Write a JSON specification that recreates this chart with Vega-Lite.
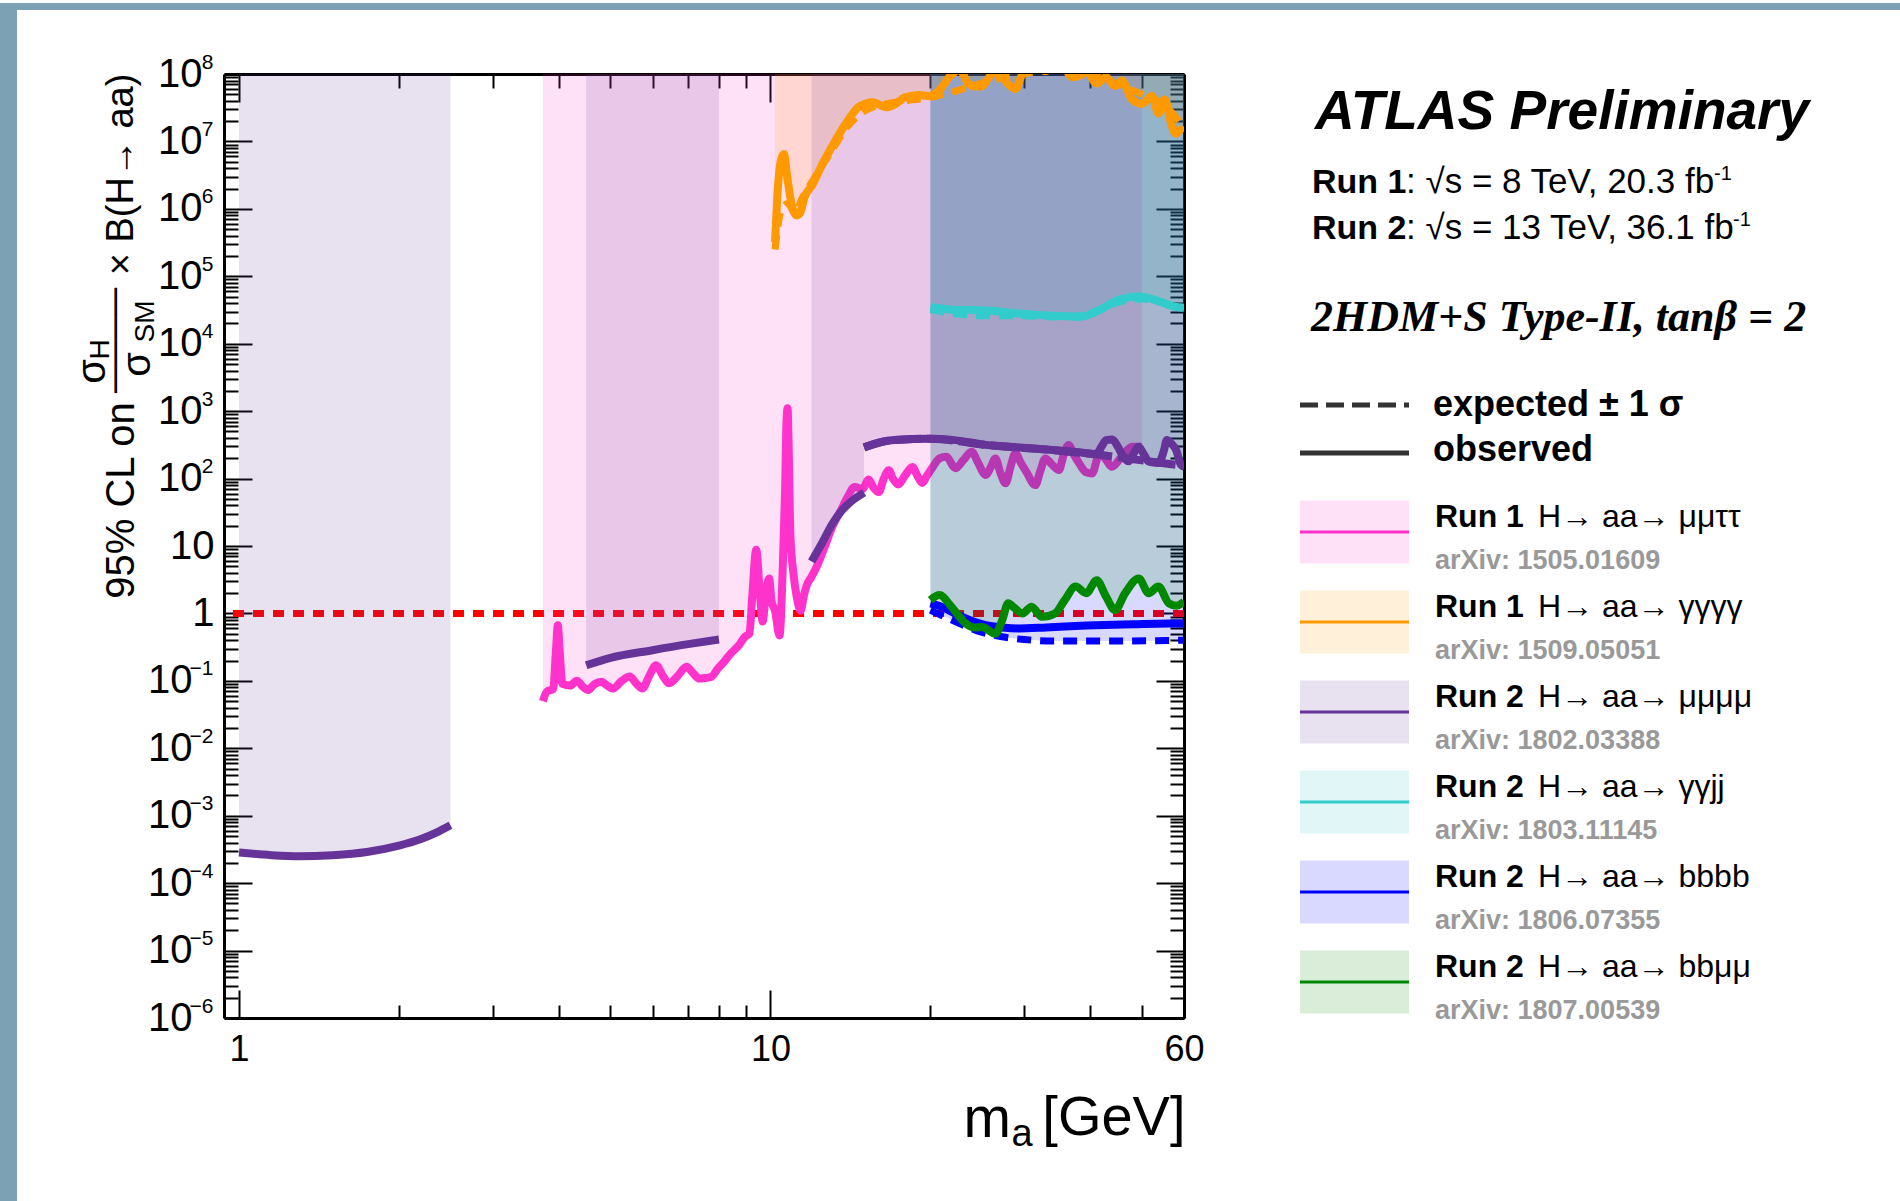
{
"$schema":"https://vega.github.io/schema/vega-lite/v6.json",
"background":"white",
"padding":0,
"columns":4,
"spacing":{"row":0,"column":0},
"bounds":"flush",
"align":"each",
"config":{
 "view":{"stroke":null},
 "axis":{"grid":false,"tickColor":"#000","tickWidth":2,"domainColor":"#000","domainWidth":3,"labelColor":"#000","labelFont":"Liberation Sans","titleFont":"Liberation Sans","titleColor":"#000","titleFontWeight":"normal","labelFlush":false,"labelOverlap":false,"labelBound":false},
 "text":{"font":"Liberation Sans","color":"#000"}
},
"datasets":{"curves":[
{"a":"mmtt","k":"o","s":1,"m":3.73,"v":0.05},{"a":"mmtt","k":"o","s":1,"m":3.8,"v":0.07},{"a":"mmtt","k":"o","s":1,"m":3.9,"v":0.075},{"a":"mmtt","k":"o","s":1,"m":3.95,"v":0.3},{"a":"mmtt","k":"o","s":1,"m":3.98,"v":0.67},{"a":"mmtt","k":"o","s":1,"m":4.01,"v":0.3},{"a":"mmtt","k":"o","s":1,"m":4.06,"v":0.09},{"a":"mmtt","k":"o","s":1,"m":4.2,"v":0.085},{"a":"mmtt","k":"o","s":1,"m":4.32,"v":0.1},{"a":"mmtt","k":"o","s":1,"m":4.45,"v":0.08},{"a":"mmtt","k":"o","s":1,"m":4.53,"v":0.073},{"a":"mmtt","k":"o","s":1,"m":4.67,"v":0.09},{"a":"mmtt","k":"o","s":1,"m":4.81,"v":0.097},{"a":"mmtt","k":"o","s":1,"m":4.93,"v":0.085},{"a":"mmtt","k":"o","s":1,"m":5.05,"v":0.077},{"a":"mmtt","k":"o","s":1,"m":5.25,"v":0.1},{"a":"mmtt","k":"o","s":1,"m":5.43,"v":0.116},{"a":"mmtt","k":"o","s":1,"m":5.6,"v":0.09},{"a":"mmtt","k":"o","s":1,"m":5.74,"v":0.077},{"a":"mmtt","k":"o","s":1,"m":5.92,"v":0.12},{"a":"mmtt","k":"o","s":1,"m":6.09,"v":0.171},{"a":"mmtt","k":"o","s":1,"m":6.27,"v":0.12},{"a":"mmtt","k":"o","s":1,"m":6.45,"v":0.092},{"a":"mmtt","k":"o","s":1,"m":6.7,"v":0.12},{"a":"mmtt","k":"o","s":1,"m":6.95,"v":0.162},{"a":"mmtt","k":"o","s":1,"m":7.15,"v":0.13},{"a":"mmtt","k":"o","s":1,"m":7.35,"v":0.108},{"a":"mmtt","k":"o","s":1,"m":7.55,"v":0.11},{"a":"mmtt","k":"o","s":1,"m":7.75,"v":0.115},{"a":"mmtt","k":"o","s":1,"m":7.95,"v":0.15},{"a":"mmtt","k":"o","s":1,"m":8.13,"v":0.181},{"a":"mmtt","k":"o","s":1,"m":8.4,"v":0.25},{"a":"mmtt","k":"o","s":1,"m":8.73,"v":0.34},{"a":"mmtt","k":"o","s":1,"m":8.95,"v":0.45},{"a":"mmtt","k":"o","s":1,"m":9.13,"v":0.5},{"a":"mmtt","k":"o","s":1,"m":9.25,"v":2},{"a":"mmtt","k":"o","s":1,"m":9.4,"v":8.8},{"a":"mmtt","k":"o","s":1,"m":9.55,"v":2},{"a":"mmtt","k":"o","s":1,"m":9.67,"v":0.76},{"a":"mmtt","k":"o","s":1,"m":9.8,"v":2},{"a":"mmtt","k":"o","s":1,"m":9.94,"v":3.3},{"a":"mmtt","k":"o","s":1,"m":10.05,"v":1.5},{"a":"mmtt","k":"o","s":1,"m":10.2,"v":1.1},{"a":"mmtt","k":"o","s":1,"m":10.4,"v":0.47},{"a":"mmtt","k":"o","s":1,"m":10.55,"v":5},{"a":"mmtt","k":"o","s":1,"m":10.65,"v":60},{"a":"mmtt","k":"o","s":1,"m":10.72,"v":700},{"a":"mmtt","k":"o","s":1,"m":10.77,"v":1100},{"a":"mmtt","k":"o","s":1,"m":10.82,"v":300},{"a":"mmtt","k":"o","s":1,"m":10.9,"v":15},{"a":"mmtt","k":"o","s":1,"m":11.05,"v":3.8},{"a":"mmtt","k":"o","s":1,"m":11.2,"v":1.8},{"a":"mmtt","k":"o","s":1,"m":11.4,"v":1.1},{"a":"mmtt","k":"o","s":1,"m":11.55,"v":1.8},{"a":"mmtt","k":"o","s":1,"m":11.7,"v":2.6},{"a":"mmtt","k":"o","s":1,"m":11.95,"v":3.5},{"a":"mmtt","k":"o","s":1,"m":12.2,"v":4.8},{"a":"mmtt","k":"o","s":1,"m":12.6,"v":9},{"a":"mmtt","k":"o","s":1,"m":13.1,"v":20},{"a":"mmtt","k":"o","s":1,"m":13.6,"v":35},{"a":"mmtt","k":"o","s":1,"m":14,"v":55},{"a":"mmtt","k":"o","s":1,"m":14.4,"v":75},{"a":"mmtt","k":"o","s":1,"m":14.9,"v":70},{"a":"mmtt","k":"o","s":1,"m":15.3,"v":97},{"a":"mmtt","k":"o","s":1,"m":15.6,"v":75},{"a":"mmtt","k":"o","s":1,"m":16,"v":63},{"a":"mmtt","k":"o","s":1,"m":16.3,"v":95},{"a":"mmtt","k":"o","s":1,"m":16.7,"v":133},{"a":"mmtt","k":"o","s":1,"m":17,"v":100},{"a":"mmtt","k":"o","s":1,"m":17.4,"v":82},{"a":"mmtt","k":"o","s":1,"m":17.9,"v":110},{"a":"mmtt","k":"o","s":1,"m":18.5,"v":148},{"a":"mmtt","k":"o","s":1,"m":18.9,"v":110},{"a":"mmtt","k":"o","s":1,"m":19.3,"v":86},{"a":"mmtt","k":"o","s":1,"m":19.7,"v":110},{"a":"mmtt","k":"o","s":1,"m":20.2,"v":148},{"a":"mmtt","k":"o","s":1,"m":20.8,"v":200},{"a":"mmtt","k":"o","s":1,"m":21.4,"v":211},{"a":"mmtt","k":"o","s":1,"m":22.3,"v":142},{"a":"mmtt","k":"o","s":1,"m":23.1,"v":190},{"a":"mmtt","k":"o","s":1,"m":23.9,"v":250},{"a":"mmtt","k":"o","s":1,"m":24.6,"v":170},{"a":"mmtt","k":"o","s":1,"m":25.4,"v":113},{"a":"mmtt","k":"o","s":1,"m":26,"v":150},{"a":"mmtt","k":"o","s":1,"m":26.5,"v":199},{"a":"mmtt","k":"o","s":1,"m":27.1,"v":120},{"a":"mmtt","k":"o","s":1,"m":27.7,"v":85},{"a":"mmtt","k":"o","s":1,"m":28.3,"v":150},{"a":"mmtt","k":"o","s":1,"m":28.9,"v":237},{"a":"mmtt","k":"o","s":1,"m":29.6,"v":170},{"a":"mmtt","k":"o","s":1,"m":30.3,"v":126},{"a":"mmtt","k":"o","s":1,"m":31.5,"v":80},{"a":"mmtt","k":"o","s":1,"m":32.2,"v":130},{"a":"mmtt","k":"o","s":1,"m":32.9,"v":199},{"a":"mmtt","k":"o","s":1,"m":33.9,"v":160},{"a":"mmtt","k":"o","s":1,"m":34.9,"v":134},{"a":"mmtt","k":"o","s":1,"m":35.6,"v":220},{"a":"mmtt","k":"o","s":1,"m":36.4,"v":316},{"a":"mmtt","k":"o","s":1,"m":37.2,"v":230},{"a":"mmtt","k":"o","s":1,"m":38.1,"v":168},{"a":"mmtt","k":"o","s":1,"m":39.2,"v":125},{"a":"mmtt","k":"o","s":1,"m":40.3,"v":119},{"a":"mmtt","k":"o","s":1,"m":41.6,"v":237},{"a":"mmtt","k":"o","s":1,"m":42.8,"v":190},{"a":"mmtt","k":"o","s":1,"m":43.9,"v":150},{"a":"mmtt","k":"o","s":1,"m":45.8,"v":211},{"a":"mmtt","k":"o","s":1,"m":47.9,"v":296},{"a":"mmtt","k":"o","s":1,"m":50,"v":296},
{"a":"ggg","k":"o","s":1,"m":10.2,"v":320000},{"a":"ggg","k":"o","s":1,"m":10.3,"v":1500000},{"a":"ggg","k":"o","s":1,"m":10.45,"v":5000000},{"a":"ggg","k":"o","s":1,"m":10.6,"v":6500000},{"a":"ggg","k":"o","s":1,"m":10.75,"v":3000000},{"a":"ggg","k":"o","s":1,"m":10.95,"v":1200000},{"a":"ggg","k":"o","s":1,"m":11.2,"v":800000},{"a":"ggg","k":"o","s":1,"m":11.35,"v":850000},{"a":"ggg","k":"o","s":1,"m":11.6,"v":1500000},{"a":"ggg","k":"o","s":1,"m":12,"v":2300000},{"a":"ggg","k":"o","s":1,"m":12.5,"v":4500000},{"a":"ggg","k":"o","s":1,"m":13.1,"v":8800000},{"a":"ggg","k":"o","s":1,"m":13.9,"v":19000000},{"a":"ggg","k":"o","s":1,"m":14.7,"v":33000000},{"a":"ggg","k":"o","s":1,"m":15.6,"v":38000000},{"a":"ggg","k":"o","s":1,"m":16.5,"v":32000000},{"a":"ggg","k":"o","s":1,"m":17.2,"v":36000000},{"a":"ggg","k":"o","s":1,"m":17.9,"v":45000000},{"a":"ggg","k":"o","s":1,"m":19,"v":49000000},{"a":"ggg","k":"o","s":1,"m":19.9,"v":47000000},{"a":"ggg","k":"o","s":1,"m":20.8,"v":58000000},{"a":"ggg","k":"o","s":1,"m":21.7,"v":90000000},{"a":"ggg","k":"o","s":1,"m":22.7,"v":115000000},{"a":"ggg","k":"o","s":1,"m":23.6,"v":71000000},{"a":"ggg","k":"o","s":1,"m":24.3,"v":65000000},{"a":"ggg","k":"o","s":1,"m":25,"v":66000000},{"a":"ggg","k":"o","s":1,"m":25.8,"v":90000000},{"a":"ggg","k":"o","s":1,"m":26.5,"v":110000000},{"a":"ggg","k":"o","s":1,"m":27.3,"v":90000000},{"a":"ggg","k":"o","s":1,"m":28,"v":71000000},{"a":"ggg","k":"o","s":1,"m":28.9,"v":60000000},{"a":"ggg","k":"o","s":1,"m":29.8,"v":100000000},{"a":"ggg","k":"o","s":1,"m":31.5,"v":130000000},{"a":"ggg","k":"o","s":1,"m":32.9,"v":110000000},{"a":"ggg","k":"o","s":1,"m":35,"v":150000000},{"a":"ggg","k":"o","s":1,"m":37,"v":90000000},{"a":"ggg","k":"o","s":1,"m":38.2,"v":95000000},{"a":"ggg","k":"o","s":1,"m":39.3,"v":110000000},{"a":"ggg","k":"o","s":1,"m":41.1,"v":72000000},{"a":"ggg","k":"o","s":1,"m":42.8,"v":90000000},{"a":"ggg","k":"o","s":1,"m":44.5,"v":66000000},{"a":"ggg","k":"o","s":1,"m":45.8,"v":80000000},{"a":"ggg","k":"o","s":1,"m":47.9,"v":42000000},{"a":"ggg","k":"o","s":1,"m":50,"v":36000000},{"a":"ggg","k":"o","s":1,"m":52.2,"v":47000000},{"a":"ggg","k":"o","s":1,"m":53.7,"v":26000000},{"a":"ggg","k":"o","s":1,"m":55.2,"v":42000000},{"a":"ggg","k":"o","s":1,"m":56.9,"v":17000000},{"a":"ggg","k":"o","s":1,"m":58,"v":13000000},{"a":"ggg","k":"o","s":1,"m":59.2,"v":15000000},{"a":"ggg","k":"o","s":1,"m":60,"v":14000000},
{"a":"ggg","k":"e","s":1,"m":10.2,"v":250000},{"a":"ggg","k":"e","s":1,"m":10.5,"v":1000000},{"a":"ggg","k":"e","s":1,"m":10.8,"v":1200000},{"a":"ggg","k":"e","s":1,"m":11.1,"v":870000},{"a":"ggg","k":"e","s":1,"m":11.5,"v":1500000},{"a":"ggg","k":"e","s":1,"m":12,"v":2600000},{"a":"ggg","k":"e","s":1,"m":13,"v":7000000},{"a":"ggg","k":"e","s":1,"m":14,"v":17000000},{"a":"ggg","k":"e","s":1,"m":15,"v":28000000},{"a":"ggg","k":"e","s":1,"m":16.5,"v":36000000},{"a":"ggg","k":"e","s":1,"m":18,"v":40000000},{"a":"ggg","k":"e","s":1,"m":20,"v":45000000},{"a":"ggg","k":"e","s":1,"m":23,"v":60000000},{"a":"ggg","k":"e","s":1,"m":26,"v":80000000},{"a":"ggg","k":"e","s":1,"m":30,"v":100000000},{"a":"ggg","k":"e","s":1,"m":35,"v":120000000},{"a":"ggg","k":"e","s":1,"m":40,"v":100000000},{"a":"ggg","k":"e","s":1,"m":45,"v":70000000},{"a":"ggg","k":"e","s":1,"m":50,"v":50000000},{"a":"ggg","k":"e","s":1,"m":55,"v":35000000},{"a":"ggg","k":"e","s":1,"m":60,"v":16000000},
{"a":"mmmm","k":"o","s":1,"m":1,"v":0.000285},{"a":"mmmm","k":"o","s":1,"m":1.15,"v":0.00026},{"a":"mmmm","k":"o","s":1,"m":1.3,"v":0.00025},{"a":"mmmm","k":"o","s":1,"m":1.5,"v":0.00026},{"a":"mmmm","k":"o","s":1,"m":1.74,"v":0.00029},{"a":"mmmm","k":"o","s":1,"m":2,"v":0.00036},{"a":"mmmm","k":"o","s":1,"m":2.2,"v":0.00045},{"a":"mmmm","k":"o","s":1,"m":2.35,"v":0.00056},{"a":"mmmm","k":"o","s":1,"m":2.5,"v":0.00072},
{"a":"mmmm","k":"o","s":2,"m":4.5,"v":0.17},{"a":"mmmm","k":"o","s":2,"m":5,"v":0.22},{"a":"mmmm","k":"o","s":2,"m":6,"v":0.285},{"a":"mmmm","k":"o","s":2,"m":7,"v":0.35},{"a":"mmmm","k":"o","s":2,"m":8,"v":0.41},
{"a":"mmmm","k":"o","s":3,"m":11.95,"v":5.9},{"a":"mmmm","k":"o","s":3,"m":12.5,"v":11},{"a":"mmmm","k":"o","s":3,"m":13.06,"v":21},{"a":"mmmm","k":"o","s":3,"m":13.6,"v":33},{"a":"mmmm","k":"o","s":3,"m":14.2,"v":46},{"a":"mmmm","k":"o","s":3,"m":15,"v":62},
{"a":"mmmm","k":"o","s":4,"m":15,"v":290},{"a":"mmmm","k":"o","s":4,"m":16,"v":340},{"a":"mmmm","k":"o","s":4,"m":16.9,"v":370},{"a":"mmmm","k":"o","s":4,"m":18.5,"v":385},{"a":"mmmm","k":"o","s":4,"m":20,"v":390},{"a":"mmmm","k":"o","s":4,"m":22,"v":375},{"a":"mmmm","k":"o","s":4,"m":25.4,"v":316},{"a":"mmmm","k":"o","s":4,"m":30,"v":285},{"a":"mmmm","k":"o","s":4,"m":34,"v":265},{"a":"mmmm","k":"o","s":4,"m":38,"v":245},{"a":"mmmm","k":"o","s":4,"m":41,"v":232},{"a":"mmmm","k":"o","s":4,"m":42,"v":300},{"a":"mmmm","k":"o","s":4,"m":42.8,"v":372},{"a":"mmmm","k":"o","s":4,"m":44,"v":380},{"a":"mmmm","k":"o","s":4,"m":45,"v":300},{"a":"mmmm","k":"o","s":4,"m":46,"v":220},{"a":"mmmm","k":"o","s":4,"m":47.2,"v":180},{"a":"mmmm","k":"o","s":4,"m":48.3,"v":240},{"a":"mmmm","k":"o","s":4,"m":49.3,"v":296},{"a":"mmmm","k":"o","s":4,"m":50.4,"v":230},{"a":"mmmm","k":"o","s":4,"m":51.5,"v":178},{"a":"mmmm","k":"o","s":4,"m":53.7,"v":170},{"a":"mmmm","k":"o","s":4,"m":55,"v":260},{"a":"mmmm","k":"o","s":4,"m":55.7,"v":372},{"a":"mmmm","k":"o","s":4,"m":56.8,"v":330},{"a":"mmmm","k":"o","s":4,"m":58,"v":265},{"a":"mmmm","k":"o","s":4,"m":59.2,"v":160},{"a":"mmmm","k":"o","s":4,"m":60,"v":150},
{"a":"mmmm","k":"e","s":4,"m":15,"v":290},{"a":"mmmm","k":"e","s":4,"m":16.9,"v":370},{"a":"mmmm","k":"e","s":4,"m":20,"v":390},{"a":"mmmm","k":"e","s":4,"m":25.4,"v":316},{"a":"mmmm","k":"e","s":4,"m":34,"v":265},{"a":"mmmm","k":"e","s":4,"m":41.6,"v":225},{"a":"mmmm","k":"e","s":4,"m":52.2,"v":178},{"a":"mmmm","k":"e","s":4,"m":60,"v":155},
{"a":"ggjj","k":"o","s":1,"m":20,"v":35000},{"a":"ggjj","k":"o","s":1,"m":21.9,"v":32000},{"a":"ggjj","k":"o","s":1,"m":25.4,"v":31000},{"a":"ggjj","k":"o","s":1,"m":29.3,"v":28000},{"a":"ggjj","k":"o","s":1,"m":34,"v":26000},{"a":"ggjj","k":"o","s":1,"m":38.1,"v":25000},{"a":"ggjj","k":"o","s":1,"m":41.1,"v":30000},{"a":"ggjj","k":"o","s":1,"m":45.3,"v":45000},{"a":"ggjj","k":"o","s":1,"m":49.3,"v":50000},{"a":"ggjj","k":"o","s":1,"m":53.7,"v":43000},{"a":"ggjj","k":"o","s":1,"m":57,"v":36000},{"a":"ggjj","k":"o","s":1,"m":60,"v":34000},
{"a":"ggjj","k":"e","s":1,"m":20,"v":32000},{"a":"ggjj","k":"e","s":1,"m":22,"v":28000},{"a":"ggjj","k":"e","s":1,"m":25,"v":26000},{"a":"ggjj","k":"e","s":1,"m":29,"v":26000},{"a":"ggjj","k":"e","s":1,"m":34,"v":25000},{"a":"ggjj","k":"e","s":1,"m":38,"v":26000},{"a":"ggjj","k":"e","s":1,"m":42,"v":33000},{"a":"ggjj","k":"e","s":1,"m":46,"v":43000},{"a":"ggjj","k":"e","s":1,"m":50,"v":46000},{"a":"ggjj","k":"e","s":1,"m":55,"v":40000},{"a":"ggjj","k":"e","s":1,"m":60,"v":34000},
{"a":"bbbb","k":"o","s":1,"m":20,"v":1.41},{"a":"bbbb","k":"o","s":1,"m":21,"v":1.25},{"a":"bbbb","k":"o","s":1,"m":21.9,"v":1.06},{"a":"bbbb","k":"o","s":1,"m":23.5,"v":0.82},{"a":"bbbb","k":"o","s":1,"m":25.4,"v":0.67},{"a":"bbbb","k":"o","s":1,"m":27.3,"v":0.62},{"a":"bbbb","k":"o","s":1,"m":29.3,"v":0.6},{"a":"bbbb","k":"o","s":1,"m":33,"v":0.62},{"a":"bbbb","k":"o","s":1,"m":39.3,"v":0.66},{"a":"bbbb","k":"o","s":1,"m":48,"v":0.69},{"a":"bbbb","k":"o","s":1,"m":56,"v":0.71},{"a":"bbbb","k":"o","s":1,"m":60,"v":0.71},
{"a":"bbbb","k":"e","s":1,"m":20,"v":1.12},{"a":"bbbb","k":"e","s":1,"m":21.2,"v":0.9},{"a":"bbbb","k":"e","s":1,"m":22.7,"v":0.71},{"a":"bbbb","k":"e","s":1,"m":24.5,"v":0.55},{"a":"bbbb","k":"e","s":1,"m":27.3,"v":0.45},{"a":"bbbb","k":"e","s":1,"m":30,"v":0.41},{"a":"bbbb","k":"e","s":1,"m":34,"v":0.39},{"a":"bbbb","k":"e","s":1,"m":45,"v":0.39},{"a":"bbbb","k":"e","s":1,"m":60,"v":0.4},
{"a":"bbmm","k":"o","s":1,"m":20,"v":1.58},{"a":"bbmm","k":"o","s":1,"m":20.8,"v":1.87},{"a":"bbmm","k":"o","s":1,"m":21.9,"v":1.26},{"a":"bbmm","k":"o","s":1,"m":23.3,"v":0.71},{"a":"bbmm","k":"o","s":1,"m":24.2,"v":0.62},{"a":"bbmm","k":"o","s":1,"m":25,"v":0.63},{"a":"bbmm","k":"o","s":1,"m":26.5,"v":0.5},{"a":"bbmm","k":"o","s":1,"m":27.3,"v":0.8},{"a":"bbmm","k":"o","s":1,"m":28,"v":1.41},{"a":"bbmm","k":"o","s":1,"m":28.8,"v":1.2},{"a":"bbmm","k":"o","s":1,"m":29.8,"v":1},{"a":"bbmm","k":"o","s":1,"m":31,"v":1.26},{"a":"bbmm","k":"o","s":1,"m":32.4,"v":0.89},{"a":"bbmm","k":"o","s":1,"m":34.3,"v":1},{"a":"bbmm","k":"o","s":1,"m":35.8,"v":1.58},{"a":"bbmm","k":"o","s":1,"m":37.5,"v":2.5},{"a":"bbmm","k":"o","s":1,"m":39.3,"v":2},{"a":"bbmm","k":"o","s":1,"m":41.1,"v":3.1},{"a":"bbmm","k":"o","s":1,"m":42.8,"v":1.77},{"a":"bbmm","k":"o","s":1,"m":44.5,"v":1.12},{"a":"bbmm","k":"o","s":1,"m":46.5,"v":2},{"a":"bbmm","k":"o","s":1,"m":49.3,"v":3.3},{"a":"bbmm","k":"o","s":1,"m":51.5,"v":2},{"a":"bbmm","k":"o","s":1,"m":53.7,"v":2.5},{"a":"bbmm","k":"o","s":1,"m":56.2,"v":1.41},{"a":"bbmm","k":"o","s":1,"m":58,"v":1.3},{"a":"bbmm","k":"o","s":1,"m":60,"v":1.5}
]},
"concat":[
{"width":17,"height":7,"view":{"fill":"#7ca0b4","stroke":null},"data":{"values":[{}]},"mark":{"type":"text","text":""},"encoding":{}},
{"width":207,"height":7,"view":{"fill":"#7ca0b4","stroke":null},"data":{"values":[{}]},"mark":{"type":"text","text":""},"encoding":{}},
{"width":960,"height":7,"view":{"fill":"#7ca0b4","stroke":null},"data":{"values":[{}]},"mark":{"type":"text","text":""},"encoding":{}},
{"width":716,"height":7,"view":{"fill":"#7ca0b4","stroke":null},"data":{"values":[{}]},"mark":{"type":"text","text":""},"encoding":{}},
{"width":17,"height":64,"view":{"fill":"#7ca0b4","stroke":null},"data":{"values":[{}]},"mark":{"type":"text","text":""},"encoding":{}},
{"width":1,"height":1,"data":{"values":[{}]},"mark":{"type":"text","text":""},"encoding":{}},
{"width":1,"height":1,"data":{"values":[{}]},"mark":{"type":"text","text":""},"encoding":{}},
{"width":1,"height":1,"data":{"values":[{}]},"mark":{"type":"text","text":""},"encoding":{}},
{"width":17,"height":1130,"view":{"fill":"#7ca0b4","stroke":null},"data":{"values":[{}]},"mark":{"type":"text","text":""},"encoding":{}},
{"width":1,"height":1,"data":{"values":[{}]},"mark":{"type":"text","text":""},"encoding":{}},
{"width":960,"height":944,
 "data":{"name":"curves"},
 "resolve":{"axis":{"x":"independent","y":"independent"}},
 "layer":[
  {"data":{"values":[{}]},"mark":{"type":"rule","color":"#ff0000","strokeWidth":7,"strokeDash":[11,9]},
   "encoding":{"y":{"datum":1,"type":"quantitative","scale":{"type":"log","domain":[0.000001,100000000],"nice":false},"axis":null}}},
  {"transform":[{"filter":"datum.a=='mmtt'&&datum.k=='o'"}],
   "mark":{"type":"area","interpolate":"monotone","fillOpacity":0.15,"clip":true},
   "encoding":{
    "x":{"field":"m","type":"quantitative","scale":{"type":"log","domain":[0.937,60],"nice":false},
     "axis":{"orient":"bottom","values":[1,10,60],"format":"~g","tickSize":-28,"labelPadding":42,"labelFontSize":36,"domain":true,"title":"m","titleX":739,"titleY":118,"titleAlign":"left","titleBaseline":"alphabetic","titleAngle":0,"titleFontSize":57}},
    "y":{"field":"v","type":"quantitative","stack":null,"scale":{"type":"log","domain":[0.000001,100000000],"nice":false},
     "axis":{"orient":"left","values":[0.000001,0.00001,0.0001,0.001,0.01,0.1,1,10,100,1000,10000,100000,1000000,10000000,100000000],"tickSize":-28,"labelPadding":38,"labelFontSize":40,"labelExpr":"datum.value==1 ? '1' : datum.value==10 ? '10' : ''","domain":true,"title":"95% CL on","titleX":-103,"titleY":426,"titleAngle":270,"titleAlign":"center","titleBaseline":"middle","titleFontSize":40}},
    "y2":{"datum":100000000},
    "color":{"field":"a","type":"nominal","scale":{"domain":["mmtt","ggg","mmmm","ggjj","bbbb","bbmm"],"range":["#ff33cc","#ff9900","#663399","#33cccc","#0000ff","#008800"]},"legend":null},
    "detail":{"field":"s","type":"nominal"}}},
  {"transform":[{"filter":"datum.a=='mmtt'&&datum.k=='o'"}],
   "mark":{"type":"line","interpolate":"monotone","strokeWidth":8,"strokeJoin":"round","clip":true},
   "encoding":{
    "x":{"field":"m","type":"quantitative","scale":{"type":"log","domain":[0.937,60],"nice":false},
     "axis":{"orient":"bottom","values":[2,3,4,5,6,7,8,9,20,30,40,50],"tickSize":-13,"labels":false,"domain":false,"title":"a","titleX":787,"titleY":127,"titleAlign":"left","titleBaseline":"alphabetic","titleAngle":0,"titleFontSize":38}},
    "y":{"field":"v","type":"quantitative","scale":{"type":"log","domain":[0.000001,100000000],"nice":false},
     "axis":{"orient":"left","values":[0.000001,0.00001,0.0001,0.001,0.01,0.1,100,1000,10000,100000,1000000,10000000,100000000],"ticks":false,"domain":false,"labelPadding":11,"labelAlign":"right","labelOffset":-12,"labelFontSize":21,"labelExpr":"(datum.value < 1 ? '−' : '') + format(abs(round(log(datum.value)/LN10)), 'd')","title":"× B(H→ aa)","titleX":-103,"titleY":100,"titleAngle":270,"titleAlign":"center","titleBaseline":"middle","titleFontSize":38}},
    "color":{"field":"a","type":"nominal","scale":{"domain":["mmtt","ggg","mmmm","ggjj","bbbb","bbmm"],"range":["#ff33cc","#ff9900","#663399","#33cccc","#0000ff","#008800"]},"legend":null},
    "detail":{"field":"s","type":"nominal"}}},
  {"transform":[{"filter":"datum.a=='ggg'&&datum.k=='o'"}],
   "mark":{"type":"area","interpolate":"monotone","fillOpacity":0.15,"clip":true},
   "encoding":{
    "x":{"field":"m","type":"quantitative","scale":{"type":"log","domain":[0.937,60],"nice":false},
     "axis":{"orient":"top","values":[1,10],"tickSize":-28,"labels":false,"domain":true,"title":"[GeV]","titleX":961,"titleY":1060,"titleAlign":"right","titleBaseline":"alphabetic","titleAngle":0,"titleFontSize":56}},
    "y":{"field":"v","type":"quantitative","stack":null,"scale":{"type":"log","domain":[0.000001,100000000],"nice":false},
     "axis":{"orient":"left","values":[2e-6,3e-6,4e-6,5e-6,6e-6,7e-6,8e-6,9e-6,2e-5,3e-5,4e-5,5e-5,6e-5,7e-5,8e-5,9e-5,2e-4,3e-4,4e-4,5e-4,6e-4,7e-4,8e-4,9e-4,2e-3,3e-3,4e-3,5e-3,6e-3,7e-3,8e-3,9e-3,0.02,0.03,0.04,0.05,0.06,0.07,0.08,0.09,0.2,0.3,0.4,0.5,0.6,0.7,0.8,0.9,2,3,4,5,6,7,8,9,20,30,40,50,60,70,80,90,200,300,400,500,600,700,800,900,2000,3000,4000,5000,6000,7000,8000,9000,20000,30000,40000,50000,60000,70000,80000,90000,200000,300000,400000,500000,600000,700000,800000,900000,2000000,3000000,4000000,5000000,6000000,7000000,8000000,9000000,20000000,30000000,40000000,50000000,60000000,70000000,80000000,90000000],"tickSize":-14,"labels":false,"domain":false,"title":"σ","titleX":-132,"titleY":297,"titleAngle":270,"titleAlign":"center","titleBaseline":"middle","titleFontSize":40}},
    "y2":{"datum":100000000},
    "color":{"field":"a","type":"nominal","scale":{"domain":["mmtt","ggg","mmmm","ggjj","bbbb","bbmm"],"range":["#ff33cc","#ff9900","#663399","#33cccc","#0000ff","#008800"]},"legend":null},
    "detail":{"field":"s","type":"nominal"}}},
  {"transform":[{"filter":"datum.a=='mmmm'&&datum.k=='o'"}],
   "mark":{"type":"area","interpolate":"monotone","fillOpacity":0.15,"clip":true},
   "encoding":{
    "x":{"field":"m","type":"quantitative","scale":{"type":"log","domain":[0.937,60],"nice":false},
     "axis":{"orient":"top","values":[2,3,4,5,6,7,8,9,20,30,40,50],"tickSize":-14,"labels":false,"domain":false,"title":null}},
    "y":{"field":"v","type":"quantitative","stack":null,"scale":{"type":"log","domain":[0.000001,100000000],"nice":false},
     "axis":{"orient":"right","values":[0.000001,0.00001,0.0001,0.001,0.01,0.1,1,10,100,1000,10000,100000,1000000,10000000,100000000],"tickSize":-28,"labels":false,"domain":true,"title":"σ","titleX":-1047,"titleY":290,"titleAngle":270,"titleAlign":"center","titleBaseline":"middle","titleFontSize":40}},
    "y2":{"datum":100000000},
    "color":{"field":"a","type":"nominal","scale":{"domain":["mmtt","ggg","mmmm","ggjj","bbbb","bbmm"],"range":["#ff33cc","#ff9900","#663399","#33cccc","#0000ff","#008800"]},"legend":null},
    "detail":{"field":"s","type":"nominal"}}},
  {"transform":[{"filter":"datum.a=='ggjj'&&datum.k=='o'"}],
   "mark":{"type":"area","interpolate":"monotone","fillOpacity":0.15,"clip":true},
   "encoding":{
    "x":{"field":"m","type":"quantitative","scale":{"type":"log","domain":[0.937,60],"nice":false},"axis":null},
    "y":{"field":"v","type":"quantitative","stack":null,"scale":{"type":"log","domain":[0.000001,100000000],"nice":false},
     "axis":{"orient":"right","values":[2e-6,3e-6,4e-6,5e-6,6e-6,7e-6,8e-6,9e-6,2e-5,3e-5,4e-5,5e-5,6e-5,7e-5,8e-5,9e-5,2e-4,3e-4,4e-4,5e-4,6e-4,7e-4,8e-4,9e-4,2e-3,3e-3,4e-3,5e-3,6e-3,7e-3,8e-3,9e-3,0.02,0.03,0.04,0.05,0.06,0.07,0.08,0.09,0.2,0.3,0.4,0.5,0.6,0.7,0.8,0.9,2,3,4,5,6,7,8,9,20,30,40,50,60,70,80,90,200,300,400,500,600,700,800,900,2000,3000,4000,5000,6000,7000,8000,9000,20000,30000,40000,50000,60000,70000,80000,90000,200000,300000,400000,500000,600000,700000,800000,900000,2000000,3000000,4000000,5000000,6000000,7000000,8000000,9000000,20000000,30000000,40000000,50000000,60000000,70000000,80000000,90000000],"tickSize":-14,"labels":false,"domain":false,"title":"H","titleX":-1084,"titleY":275,"titleAngle":270,"titleAlign":"center","titleBaseline":"middle","titleFontSize":28}},
    "y2":{"datum":100000000},
    "color":{"field":"a","type":"nominal","scale":{"domain":["mmtt","ggg","mmmm","ggjj","bbbb","bbmm"],"range":["#ff33cc","#ff9900","#663399","#33cccc","#0000ff","#008800"]},"legend":null},
    "detail":{"field":"s","type":"nominal"}}},
  {"transform":[{"filter":"datum.a=='bbbb'&&datum.k=='e'"}],
   "mark":{"type":"area","interpolate":"monotone","fillOpacity":0.15,"clip":true},
   "encoding":{
    "x":{"field":"m","type":"quantitative","scale":{"type":"log","domain":[0.937,60],"nice":false},"axis":null},
    "y":{"field":"v","type":"quantitative","stack":null,"scale":{"type":"log","domain":[0.000001,100000000],"nice":false},
     "axis":{"orient":"left","ticks":false,"labels":false,"domain":false,"title":"SM","titleX":-79,"titleY":247,"titleAngle":270,"titleAlign":"center","titleBaseline":"middle","titleFontSize":28}},
    "y2":{"datum":100000000},
    "color":{"field":"a","type":"nominal","scale":{"domain":["mmtt","ggg","mmmm","ggjj","bbbb","bbmm"],"range":["#ff33cc","#ff9900","#663399","#33cccc","#0000ff","#008800"]},"legend":null},
    "detail":{"field":"s","type":"nominal"}}},
  {"transform":[{"filter":"datum.a=='bbmm'&&datum.k=='o'"}],
   "mark":{"type":"area","interpolate":"monotone","fillOpacity":0.15,"clip":true},
   "encoding":{
    "x":{"field":"m","type":"quantitative","scale":{"type":"log","domain":[0.937,60],"nice":false},"axis":null},
    "y":{"field":"v","type":"quantitative","stack":null,"scale":{"type":"log","domain":[0.000001,100000000],"nice":false},
     "axis":{"orient":"left","ticks":false,"labels":false,"domain":false,"title":"────","titleX":-109,"titleY":266,"titleAngle":270,"titleAlign":"center","titleBaseline":"middle","titleFontSize":37}},
    "y2":{"datum":100000000},
    "color":{"field":"a","type":"nominal","scale":{"domain":["mmtt","ggg","mmmm","ggjj","bbbb","bbmm"],"range":["#ff33cc","#ff9900","#663399","#33cccc","#0000ff","#008800"]},"legend":null},
    "detail":{"field":"s","type":"nominal"}}},
  {"transform":[{"filter":"datum.a=='ggg'&&datum.k=='o'"}],
   "mark":{"type":"line","interpolate":"monotone","strokeWidth":8,"strokeJoin":"round","clip":true},
   "encoding":{"x":{"field":"m","type":"quantitative","scale":{"type":"log","domain":[0.937,60],"nice":false},"axis":null},
    "y":{"field":"v","type":"quantitative","scale":{"type":"log","domain":[0.000001,100000000],"nice":false},
     "axis":{"orient":"left","values":[100,1000,10000,100000,1000000,10000000,100000000],"ticks":false,"domain":false,"labelPadding":22,"labelFontSize":40,"labelExpr":"'10'","title":null}},
    "color":{"field":"a","type":"nominal","scale":{"domain":["mmtt","ggg","mmmm","ggjj","bbbb","bbmm"],"range":["#ff33cc","#ff9900","#663399","#33cccc","#0000ff","#008800"]},"legend":null},"detail":{"field":"s","type":"nominal"}}},
  {"transform":[{"filter":"datum.a=='ggg'&&datum.k=='e'"}],
   "mark":{"type":"line","interpolate":"monotone","strokeWidth":7,"strokeDash":[14,9],"clip":true},
   "encoding":{"x":{"field":"m","type":"quantitative","scale":{"type":"log","domain":[0.937,60],"nice":false},"axis":null},
    "y":{"field":"v","type":"quantitative","scale":{"type":"log","domain":[0.000001,100000000],"nice":false},
     "axis":{"orient":"left","values":[0.000001,0.00001,0.0001,0.001,0.01,0.1],"ticks":false,"domain":false,"labelPadding":32,"labelFontSize":40,"labelExpr":"'10'","title":null}},
    "color":{"field":"a","type":"nominal","scale":{"domain":["mmtt","ggg","mmmm","ggjj","bbbb","bbmm"],"range":["#ff33cc","#ff9900","#663399","#33cccc","#0000ff","#008800"]},"legend":null},"detail":{"field":"s","type":"nominal"}}},
  {"transform":[{"filter":"datum.a=='mmmm'&&datum.k=='o'"}],
   "mark":{"type":"line","interpolate":"monotone","strokeWidth":8,"strokeJoin":"round","clip":true},
   "encoding":{"x":{"field":"m","type":"quantitative","scale":{"type":"log","domain":[0.937,60],"nice":false},"axis":null},"y":{"field":"v","type":"quantitative","scale":{"type":"log","domain":[0.000001,100000000],"nice":false},"axis":null},"color":{"field":"a","type":"nominal","scale":{"domain":["mmtt","ggg","mmmm","ggjj","bbbb","bbmm"],"range":["#ff33cc","#ff9900","#663399","#33cccc","#0000ff","#008800"]},"legend":null},"detail":{"field":"s","type":"nominal"}}},
  {"transform":[{"filter":"datum.a=='mmmm'&&datum.k=='e'"}],
   "mark":{"type":"line","interpolate":"monotone","strokeWidth":8,"strokeDash":[26,6],"clip":true},
   "encoding":{"x":{"field":"m","type":"quantitative","scale":{"type":"log","domain":[0.937,60],"nice":false},"axis":null},"y":{"field":"v","type":"quantitative","scale":{"type":"log","domain":[0.000001,100000000],"nice":false},"axis":null},"color":{"field":"a","type":"nominal","scale":{"domain":["mmtt","ggg","mmmm","ggjj","bbbb","bbmm"],"range":["#ff33cc","#ff9900","#663399","#33cccc","#0000ff","#008800"]},"legend":null},"detail":{"field":"s","type":"nominal"}}},
  {"transform":[{"filter":"datum.a=='ggjj'&&datum.k=='o'"}],
   "mark":{"type":"line","interpolate":"monotone","strokeWidth":8,"strokeJoin":"round","clip":true},
   "encoding":{"x":{"field":"m","type":"quantitative","scale":{"type":"log","domain":[0.937,60],"nice":false},"axis":null},"y":{"field":"v","type":"quantitative","scale":{"type":"log","domain":[0.000001,100000000],"nice":false},"axis":null},"color":{"field":"a","type":"nominal","scale":{"domain":["mmtt","ggg","mmmm","ggjj","bbbb","bbmm"],"range":["#ff33cc","#ff9900","#663399","#33cccc","#0000ff","#008800"]},"legend":null},"detail":{"field":"s","type":"nominal"}}},
  {"transform":[{"filter":"datum.a=='ggjj'&&datum.k=='e'"}],
   "mark":{"type":"line","interpolate":"monotone","strokeWidth":7,"strokeDash":[14,9],"clip":true},
   "encoding":{"x":{"field":"m","type":"quantitative","scale":{"type":"log","domain":[0.937,60],"nice":false},"axis":null},"y":{"field":"v","type":"quantitative","scale":{"type":"log","domain":[0.000001,100000000],"nice":false},"axis":null},"color":{"field":"a","type":"nominal","scale":{"domain":["mmtt","ggg","mmmm","ggjj","bbbb","bbmm"],"range":["#ff33cc","#ff9900","#663399","#33cccc","#0000ff","#008800"]},"legend":null},"detail":{"field":"s","type":"nominal"}}},
  {"transform":[{"filter":"datum.a=='bbbb'&&datum.k=='o'"}],
   "mark":{"type":"line","interpolate":"monotone","strokeWidth":8,"strokeJoin":"round","clip":true},
   "encoding":{"x":{"field":"m","type":"quantitative","scale":{"type":"log","domain":[0.937,60],"nice":false},"axis":null},"y":{"field":"v","type":"quantitative","scale":{"type":"log","domain":[0.000001,100000000],"nice":false},"axis":null},"color":{"field":"a","type":"nominal","scale":{"domain":["mmtt","ggg","mmmm","ggjj","bbbb","bbmm"],"range":["#ff33cc","#ff9900","#663399","#33cccc","#0000ff","#008800"]},"legend":null},"detail":{"field":"s","type":"nominal"}}},
  {"transform":[{"filter":"datum.a=='bbbb'&&datum.k=='e'"}],
   "mark":{"type":"line","interpolate":"monotone","strokeWidth":7,"strokeDash":[14,9],"clip":true},
   "encoding":{"x":{"field":"m","type":"quantitative","scale":{"type":"log","domain":[0.937,60],"nice":false},"axis":null},"y":{"field":"v","type":"quantitative","scale":{"type":"log","domain":[0.000001,100000000],"nice":false},"axis":null},"color":{"field":"a","type":"nominal","scale":{"domain":["mmtt","ggg","mmmm","ggjj","bbbb","bbmm"],"range":["#ff33cc","#ff9900","#663399","#33cccc","#0000ff","#008800"]},"legend":null},"detail":{"field":"s","type":"nominal"}}},
  {"transform":[{"filter":"datum.a=='bbmm'&&datum.k=='o'"}],
   "mark":{"type":"line","interpolate":"monotone","strokeWidth":8,"strokeJoin":"round","clip":true},
   "encoding":{"x":{"field":"m","type":"quantitative","scale":{"type":"log","domain":[0.937,60],"nice":false},"axis":null},"y":{"field":"v","type":"quantitative","scale":{"type":"log","domain":[0.000001,100000000],"nice":false},"axis":null},"color":{"field":"a","type":"nominal","scale":{"domain":["mmtt","ggg","mmmm","ggjj","bbbb","bbmm"],"range":["#ff33cc","#ff9900","#663399","#33cccc","#0000ff","#008800"]},"legend":null},"detail":{"field":"s","type":"nominal"}}}
 ]},
{"width":716,"height":944,
 "resolve":{"scale":{"y":"independent"}},
 "layer":[
  {"data":{"values":[{}]},
   "layer":[
    {"mark":{"type":"text","text":"ATLAS Preliminary","align":"left","baseline":"alphabetic","fontSize":55,"fontWeight":"bold","fontStyle":"italic"},
     "encoding":{"x":{"datum":131,"type":"quantitative","scale":{"domain":[0,716],"nice":false,"zero":false},"axis":null},"y":{"datum":55,"type":"quantitative","scale":{"domain":[0,944],"reverse":true,"nice":false,"zero":false},"axis":null}}},
    {"mark":{"type":"text","text":"Run 1","align":"left","baseline":"alphabetic","fontSize":34,"fontWeight":"bold"},
     "encoding":{"x":{"datum":128,"type":"quantitative","scale":{"domain":[0,716],"nice":false,"zero":false},"axis":null},"y":{"datum":119,"type":"quantitative","scale":{"domain":[0,944],"reverse":true,"nice":false,"zero":false},"axis":null}}},
    {"mark":{"type":"text","text":": √s = 8 TeV, 20.3 fb","align":"left","baseline":"alphabetic","fontSize":35},
     "encoding":{"x":{"datum":222,"type":"quantitative","scale":{"domain":[0,716],"nice":false,"zero":false},"axis":null},"y":{"datum":119,"type":"quantitative","scale":{"domain":[0,944],"reverse":true,"nice":false,"zero":false},"axis":null}}},
    {"mark":{"type":"text","text":"-1","align":"left","baseline":"alphabetic","fontSize":20},
     "encoding":{"x":{"datum":530,"type":"quantitative","scale":{"domain":[0,716],"nice":false,"zero":false},"axis":null},"y":{"datum":106,"type":"quantitative","scale":{"domain":[0,944],"reverse":true,"nice":false,"zero":false},"axis":null}}},
    {"mark":{"type":"text","text":"Run 2","align":"left","baseline":"alphabetic","fontSize":34,"fontWeight":"bold"},
     "encoding":{"x":{"datum":128,"type":"quantitative","scale":{"domain":[0,716],"nice":false,"zero":false},"axis":null},"y":{"datum":165,"type":"quantitative","scale":{"domain":[0,944],"reverse":true,"nice":false,"zero":false},"axis":null}}},
    {"mark":{"type":"text","text":": √s = 13 TeV, 36.1 fb","align":"left","baseline":"alphabetic","fontSize":35},
     "encoding":{"x":{"datum":222,"type":"quantitative","scale":{"domain":[0,716],"nice":false,"zero":false},"axis":null},"y":{"datum":165,"type":"quantitative","scale":{"domain":[0,944],"reverse":true,"nice":false,"zero":false},"axis":null}}},
    {"mark":{"type":"text","text":"-1","align":"left","baseline":"alphabetic","fontSize":20},
     "encoding":{"x":{"datum":549,"type":"quantitative","scale":{"domain":[0,716],"nice":false,"zero":false},"axis":null},"y":{"datum":152,"type":"quantitative","scale":{"domain":[0,944],"reverse":true,"nice":false,"zero":false},"axis":null}}},
    {"mark":{"type":"text","text":"2HDM+S Type-II, tanβ = 2","align":"left","baseline":"alphabetic","fontSize":44,"fontWeight":"bold","fontStyle":"italic","font":"Liberation Serif"},
     "encoding":{"x":{"datum":127,"type":"quantitative","scale":{"domain":[0,716],"nice":false,"zero":false},"axis":null},"y":{"datum":257,"type":"quantitative","scale":{"domain":[0,944],"reverse":true,"nice":false,"zero":false},"axis":null}}},
    {"mark":{"type":"rule","color":"#333333","strokeWidth":5,"strokeDash":[18,8]},
     "encoding":{"x":{"datum":116,"type":"quantitative","scale":{"domain":[0,716],"nice":false,"zero":false},"axis":null},"x2":{"datum":225},"y":{"datum":331,"type":"quantitative","scale":{"domain":[0,944],"reverse":true,"nice":false,"zero":false},"axis":null}}},
    {"mark":{"type":"rule","color":"#333333","strokeWidth":5},
     "encoding":{"x":{"datum":116,"type":"quantitative","scale":{"domain":[0,716],"nice":false,"zero":false},"axis":null},"x2":{"datum":225},"y":{"datum":379,"type":"quantitative","scale":{"domain":[0,944],"reverse":true,"nice":false,"zero":false},"axis":null}}},
    {"mark":{"type":"text","text":"expected ± 1 σ","align":"left","baseline":"alphabetic","fontSize":36,"fontWeight":"bold"},
     "encoding":{"x":{"datum":249,"type":"quantitative","scale":{"domain":[0,716],"nice":false,"zero":false},"axis":null},"y":{"datum":342,"type":"quantitative","scale":{"domain":[0,944],"reverse":true,"nice":false,"zero":false},"axis":null}}},
    {"mark":{"type":"text","text":"observed","align":"left","baseline":"alphabetic","fontSize":36,"fontWeight":"bold"},
     "encoding":{"x":{"datum":249,"type":"quantitative","scale":{"domain":[0,716],"nice":false,"zero":false},"axis":null},"y":{"datum":387,"type":"quantitative","scale":{"domain":[0,944],"reverse":true,"nice":false,"zero":false},"axis":null}}}
   ]},
  {"data":{"values":[
    {"order":0,"a":"mmtt","run":"Run 1","decay":"H→ aa→ μμττ","ref":"arXiv: 1505.01609"},
    {"order":1,"a":"ggg","run":"Run 1","decay":"H→ aa→ γγγγ","ref":"arXiv: 1509.05051"},
    {"order":2,"a":"mmmm","run":"Run 2","decay":"H→ aa→ μμμμ","ref":"arXiv: 1802.03388"},
    {"order":3,"a":"ggjj","run":"Run 2","decay":"H→ aa→ γγjj","ref":"arXiv: 1803.11145"},
    {"order":4,"a":"bbbb","run":"Run 2","decay":"H→ aa→ bbbb","ref":"arXiv: 1806.07355"},
    {"order":5,"a":"bbmm","run":"Run 2","decay":"H→ aa→ bbμμ","ref":"arXiv: 1807.00539"}]},
   "layer":[
    {"mark":{"type":"rect","fillOpacity":0.15},
     "encoding":{"x":{"datum":116,"type":"quantitative","scale":{"domain":[0,716],"nice":false,"zero":false},"axis":null},"x2":{"datum":225},
      "y":{"field":"order","type":"ordinal","scale":{"type":"band","domain":[0,1,2,3,4,5],"range":[413,953],"paddingInner":0.3,"paddingOuter":0.15},"axis":null},
      "color":{"field":"a","type":"nominal","scale":{"domain":["mmtt","ggg","mmmm","ggjj","bbbb","bbmm"],"range":["#ff33cc","#ff9900","#663399","#33cccc","#0000ff","#008800"]},"legend":null}}},
    {"mark":{"type":"rule","strokeWidth":3},
     "encoding":{"x":{"datum":116,"type":"quantitative","scale":{"domain":[0,716],"nice":false,"zero":false},"axis":null},"x2":{"datum":225},
      "y":{"field":"order","type":"ordinal","scale":{"type":"band","domain":[0,1,2,3,4,5],"range":[413,953],"paddingInner":0.3,"paddingOuter":0.15},"axis":null},
      "color":{"field":"a","type":"nominal","scale":{"domain":["mmtt","ggg","mmmm","ggjj","bbbb","bbmm"],"range":["#ff33cc","#ff9900","#663399","#33cccc","#0000ff","#008800"]},"legend":null}}},
    {"mark":{"type":"text","align":"left","baseline":"alphabetic","fontSize":32,"fontWeight":"bold","dy":-5},
     "encoding":{"x":{"datum":251,"type":"quantitative","scale":{"domain":[0,716],"nice":false,"zero":false},"axis":null},
      "y":{"field":"order","type":"ordinal","scale":{"type":"band","domain":[0,1,2,3,4,5],"range":[413,953],"paddingInner":0.3,"paddingOuter":0.15},"axis":null},
      "text":{"field":"run"}}},
    {"mark":{"type":"text","align":"left","baseline":"alphabetic","fontSize":32,"dy":-5},
     "encoding":{"x":{"datum":354,"type":"quantitative","scale":{"domain":[0,716],"nice":false,"zero":false},"axis":null},
      "y":{"field":"order","type":"ordinal","scale":{"type":"band","domain":[0,1,2,3,4,5],"range":[413,953],"paddingInner":0.3,"paddingOuter":0.15},"axis":null},
      "text":{"field":"decay"}}},
    {"mark":{"type":"text","align":"left","baseline":"alphabetic","fontSize":27,"fontWeight":"bold","color":"#999999","dy":37},
     "encoding":{"x":{"datum":251,"type":"quantitative","scale":{"domain":[0,716],"nice":false,"zero":false},"axis":null},
      "y":{"field":"order","type":"ordinal","scale":{"type":"band","domain":[0,1,2,3,4,5],"range":[413,953],"paddingInner":0.3,"paddingOuter":0.15},"axis":null},
      "text":{"field":"ref"}}}
   ]}
 ]}
]
}
